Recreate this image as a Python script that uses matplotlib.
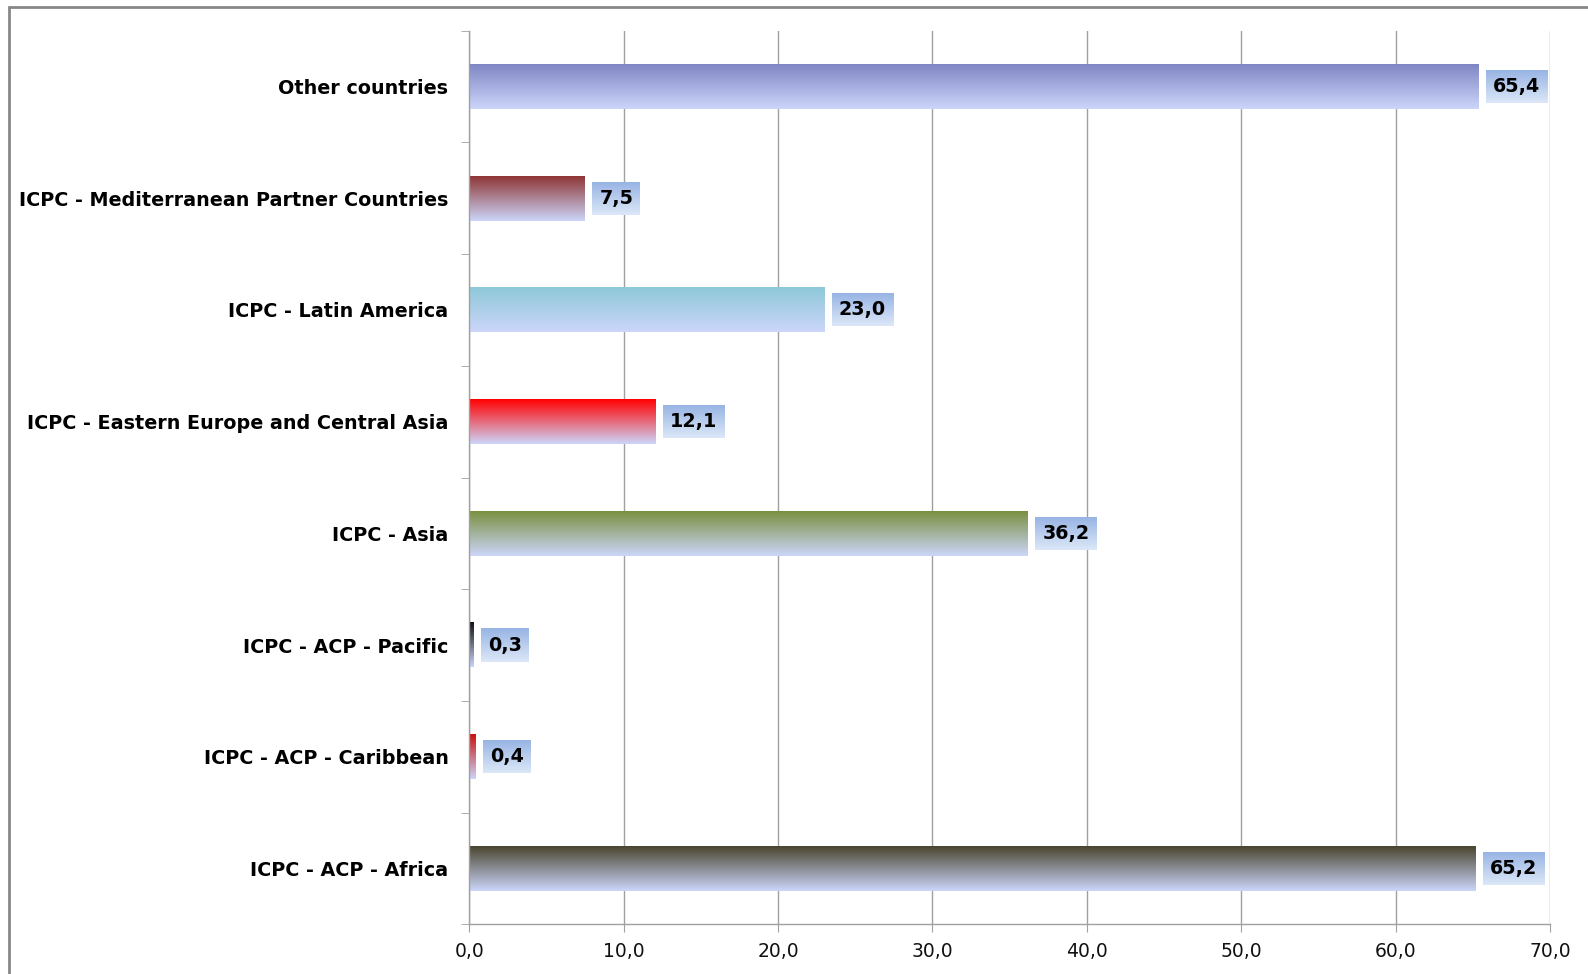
import numpy as np
import matplotlib
matplotlib.use("Agg")
import matplotlib.pyplot as plt
from matplotlib.patches import Rectangle
from matplotlib.colors import LinearSegmentedColormap
from matplotlib.ticker import FuncFormatter, FixedLocator

plt.rcParams["font.family"] = ["DejaVu Sans"]

categories = ["ICPC - ACP - Africa", "ICPC - ACP - Caribbean", "ICPC - ACP - Pacific",
              "ICPC - Asia", "ICPC - Eastern Europe and Central Asia", "ICPC - Latin America",
              "ICPC - Mediterranean Partner Countries", "Other countries"]
values = [65.2, 0.4, 0.3, 36.2, 12.1, 23.0, 7.5, 65.4]
top_colors = ["#4a4530", "#cc1010", "#101010", "#7a9040", "#ff0000", "#8ec8d8", "#8e3535", "#7f86c4"]
bottom_color = "#ccd6fa"
xticks = [0, 10, 20, 30, 40, 50, 60, 70]

W, H = 1588, 974
fig = plt.figure(figsize=(W / 100, H / 100), dpi=100)
fig.patch.set_facecolor("white")
L, R, T, B = 469.3, 1550.0, 30.7, 924.3
ax = fig.add_axes([L / W, (H - B) / H, (R - L) / W, (B - T) / H])

y = np.arange(len(categories))
bars = ax.barh(y, values, height=0.4, color="none", edgecolor="none", zorder=2)

for b, c in zip(bars, top_colors):
    x0, y0 = b.get_x(), b.get_y()
    w, h = b.get_width(), b.get_height()
    cmap = LinearSegmentedColormap.from_list("g", [bottom_color, c])
    grad = np.linspace(0, 1, 256).reshape(-1, 1)
    ax.imshow(grad, cmap=cmap, aspect="auto", origin="lower",
              extent=(x0, x0 + w, y0, y0 + h), zorder=2, interpolation="bilinear")
ax.set_xlim(0, 70)
ax.set_ylim(-0.5, len(categories) - 0.5)

ax.xaxis.set_major_locator(FixedLocator(xticks))
ax.xaxis.set_major_formatter(FuncFormatter(lambda v, p: f"{v:.1f}".replace(".", ",")))
ax.grid(axis="x", color="#a0a0a0", linewidth=1.0, zorder=0)
ax.set_axisbelow(True)

ax.set_yticks(y)
ax.set_yticklabels(categories, fontweight="bold", fontsize=13.75, color="#000000")
ax.tick_params(axis="y", length=0, pad=15)
ax.set_yticks(np.arange(-0.5, len(categories), 1.0), minor=True)
ax.tick_params(axis="y", which="minor", length=6, color="#a0a0a0", left=True)
ax.tick_params(axis="x", length=6, color="#a0a0a0", labelsize=13.5, pad=7, labelcolor="#111111")

for s in ["top", "right"]:
    ax.spines[s].set_visible(False)
for s in ["left", "bottom"]:
    ax.spines[s].set_color("#a0a0a0")
    ax.spines[s].set_linewidth(1.0)

texts = []
for b, v in zip(bars, values):
    t = ax.text(v + 0.92, b.get_y() + b.get_height() / 2, f"{v:.1f}".replace(".", ","),
                ha="left", va="center", fontsize=13.75, fontweight="bold", color="#000000", zorder=5)
    texts.append(t)

fig.canvas.draw()
renderer = fig.canvas.get_renderer()
inv = ax.transData.inverted()
lab_cmap = LinearSegmentedColormap.from_list("lab", ["#dce8f8", "#98b4e4"])
for t in texts:
    bb = t.get_window_extent(renderer)
    cy = (bb.y0 + bb.y1) / 2
    (x0, y0) = inv.transform((bb.x0 - 7, cy - 16.5))
    (x1, y1) = inv.transform((bb.x1 + 7, cy + 16.5))
    grad = np.linspace(0, 1, 256).reshape(-1, 1)
    ax.imshow(grad, cmap=lab_cmap, aspect="auto", origin="lower",
              extent=(x0, x1, y0, y1), zorder=4, interpolation="bilinear", clip_on=False)
ax.set_xlim(0, 70)
ax.set_ylim(-0.5, len(categories) - 0.5)

border = Rectangle((8.5 / W, -0.05), 2.0, 1 - 7.0 / H + 0.05, transform=fig.transFigure,
                   fill=False, edgecolor="#888888", linewidth=2, clip_on=False)
fig.patches.append(border)

fig.savefig("out.png", dpi=100)
